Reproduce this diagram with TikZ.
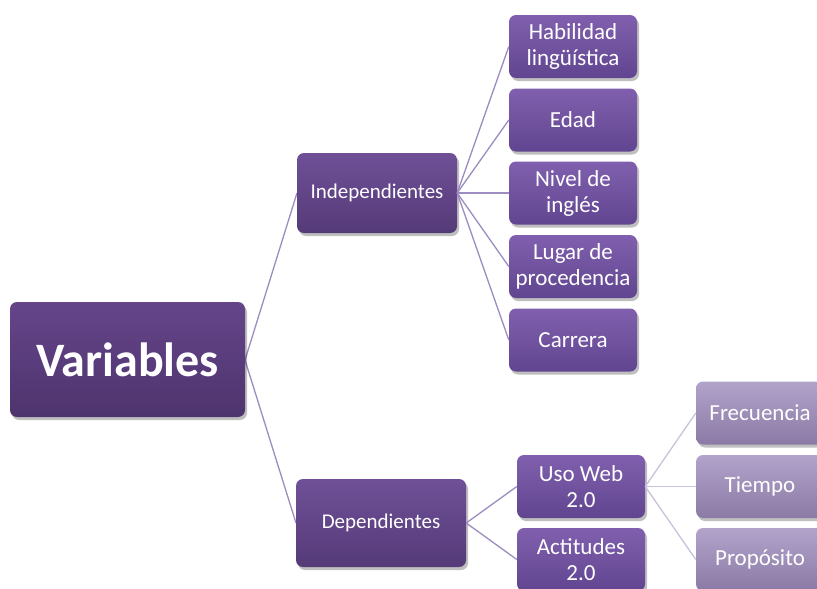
\documentclass[tikz,border=0pt]{standalone}
\usepackage{fontspec}
\setmainfont{Carlito}
\usetikzlibrary{shadows}
\definecolor{rootTop}{HTML}{65458A}
\definecolor{rootBot}{HTML}{4E346E}
\definecolor{oneTop}{HTML}{6F5097}
\definecolor{oneBot}{HTML}{553A78}
\definecolor{twoTop}{HTML}{8060AE}
\definecolor{twoBot}{HTML}{614590}
\definecolor{threeTop}{HTML}{B2A3CB}
\definecolor{threeBot}{HTML}{8A7AA5}
\definecolor{linkDark}{HTML}{9C8CBF}
\definecolor{linkLight}{HTML}{CAC1DC}
\tikzset{
  box/.style={rounded corners=7pt, text=white, align=center, inner sep=0pt,
    drop shadow={shadow xshift=2pt, shadow yshift=-3pt, opacity=0.25, fill=black}},
  rootbox/.style={box, top color=rootTop, bottom color=rootBot,
    minimum width=235pt, minimum height=115pt,
    font=\fontsize{48}{52}\selectfont\bfseries},
  onebox/.style={box, top color=oneTop, bottom color=oneBot,
    font=\fontsize{21}{25}\selectfont},
  twobox/.style={box, top color=twoTop, bottom color=twoBot,
    minimum width=128pt, minimum height=63pt,
    font=\fontsize{23}{26}\selectfont},
  threebox/.style={box, top color=threeTop, bottom color=threeBot,
    minimum width=128pt, minimum height=63pt,
    font=\fontsize{23}{26}\selectfont},
  link/.style={draw=linkDark, line width=1.3pt},
  thinlink/.style={draw=linkLight, line width=1.3pt}
}
\begin{document}
\begin{tikzpicture}[x=1pt,y=-1pt]
\useasboundingbox (0,0) rectangle (817,589);
\fill [white] (0,0) rectangle (817,589);
% links first, boxes drawn on top
\coordinate (varE) at (245,360);
\coordinate (indW) at (297,193);
\coordinate (depW) at (296,523);
\draw [link] (varE) -- (indW);
\draw [link] (varE) -- (depW);
\node [rootbox] (var) at (127.5,359.5) {Variables};
\node [onebox, minimum width=160pt, minimum height=80pt] (ind) at (377,193) {Independientes};
\node [onebox, minimum width=170pt, minimum height=88pt] (dep) at (381,523) {Dependientes};
%
\node [twobox] (hab) at (573,46.5) {Habilidad\\lingüística};
\node [twobox] (edad) at (573,120) {Edad};
\node [twobox] (niv) at (573,193) {Nivel de\\inglés};
\node [twobox] (lug) at (573,266.5) {Lugar de\\procedencia};
\node [twobox] (car) at (573,340) {Carrera};
\node [twobox] (uso) at (581,486.5) {Uso Web\\2.0};
\node [twobox] (act) at (581,559.5) {Actitudes\\2.0};
%
\node [threebox] (fre) at (760,413) {Frecuencia};
\node [threebox] (tie) at (760,486.5) {Tiempo};
\node [threebox] (pro) at (760,559.5) {Propósito};
%
\foreach \kid in {hab,edad,niv,lug,car}
  \draw [link] (ind.east) -- (\kid.west);
\foreach \kid in {uso,act}
  \draw [link] (dep.east) -- (\kid.west);
\foreach \kid in {fre,tie,pro}
  \draw [thinlink] (uso.east) -- (\kid.west);
\end{tikzpicture}
\end{document}
